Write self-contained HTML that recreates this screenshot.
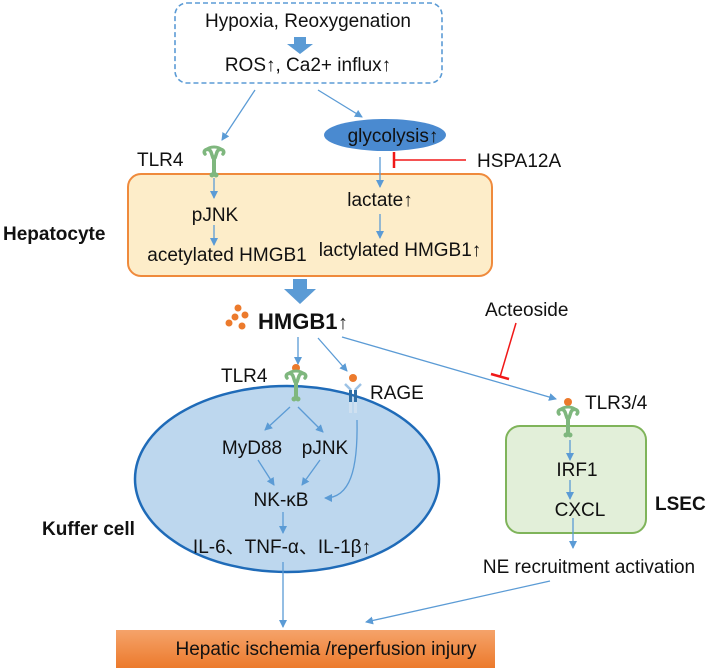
<!DOCTYPE html>
<html><head><meta charset="utf-8"><style>
html,body{margin:0;padding:0;background:#fff;}
svg{display:block;}
text{font-family:"Liberation Sans",Arial,sans-serif;fill:#111;}
</style></head><body>
<svg width="708" height="668" viewBox="0 0 708 668" xmlns="http://www.w3.org/2000/svg">
<defs>
<marker id="ah" markerWidth="8" markerHeight="8" refX="7" refY="4" orient="auto" markerUnits="userSpaceOnUse">
<path d="M0,0 L8,4 L0,8 Z" fill="#5b9bd5"/></marker>
<linearGradient id="og" x1="0" y1="0" x2="0" y2="1"><stop offset="0" stop-color="#f5a36a"/><stop offset="1" stop-color="#ec7a2c"/></linearGradient>
<g id="tlr">
<path d="M-9,-6 C-12,-10 -5,-13 -3,-8 L-1,-2 M9,-6 C12,-10 5,-13 3,-8 L1,-2" stroke="#7fb77e" stroke-width="3.5" fill="none" stroke-linecap="round"/>
<path d="M-8,-10 C-4,-14 4,-14 8,-10" stroke="#7fb77e" stroke-width="3" fill="none"/>
<rect x="-2" y="-4" width="4" height="20" fill="#7fb77e"/>
<circle cx="-2" cy="15" r="2.5" fill="#7fb77e"/><circle cx="2" cy="15" r="2.5" fill="#7fb77e"/>
</g>
</defs>

<rect x="175" y="3" width="267" height="80" rx="12" fill="none" stroke="#5b9bd5" stroke-width="1.6" stroke-dasharray="5,3"/>
<text x="308" y="27" font-size="19" text-anchor="middle">Hypoxia, Reoxygenation</text>
<path d="M294,37 L306,37 L306,44 L313,44 L300,54 L287,44 L294,44 Z" fill="#5b9bd5"/>
<text x="308" y="71" font-size="19" text-anchor="middle">ROS↑,  Ca2+ influx↑</text>

<line x1="255" y1="90" x2="222" y2="140" stroke="#5b9bd5" stroke-width="1.3" marker-end="url(#ah)"/>
<line x1="318" y1="90" x2="362" y2="117" stroke="#5b9bd5" stroke-width="1.3" marker-end="url(#ah)"/>

<ellipse cx="385" cy="135" rx="61" ry="16" fill="#4a8ad0"/>
<text x="393" y="142" font-size="19" text-anchor="middle">glycolysis↑</text>

<text x="137" y="166" font-size="19">TLR4</text>
<text x="477" y="167" font-size="19">HSPA12A</text>
<line x1="466" y1="160" x2="394" y2="160" stroke="#f01818" stroke-width="1.5"/>
<line x1="394" y1="152" x2="394" y2="168" stroke="#f01818" stroke-width="2.5"/>

<rect x="128" y="174" width="364" height="102" rx="13" fill="#fdedc9" stroke="#ef8a3c" stroke-width="2"/>
<use href="#tlr" x="214" y="160"/>
<text x="3" y="240" font-size="19" font-weight="bold">Hepatocyte</text>
<line x1="214" y1="178" x2="214" y2="198" stroke="#5b9bd5" stroke-width="1.3" marker-end="url(#ah)"/>
<text x="215" y="221" font-size="19" text-anchor="middle">pJNK</text>
<line x1="214" y1="225" x2="214" y2="245" stroke="#5b9bd5" stroke-width="1.3" marker-end="url(#ah)"/>
<text x="227" y="261" font-size="19" text-anchor="middle">acetylated HMGB1</text>
<line x1="380" y1="157" x2="380" y2="187" stroke="#5b9bd5" stroke-width="1.3" marker-end="url(#ah)"/>
<text x="380" y="206" font-size="19" text-anchor="middle">lactate↑</text>
<line x1="380" y1="214" x2="380" y2="238" stroke="#5b9bd5" stroke-width="1.3" marker-end="url(#ah)"/>
<text x="400" y="256" font-size="19" text-anchor="middle">lactylated HMGB1↑</text>

<path d="M293,279 L307,279 L307,289 L316,289 L300,304 L284,289 L293,289 Z" fill="#5b9bd5"/>
<g fill="#ec7a2c"><circle cx="238" cy="308" r="3.5"/><circle cx="245" cy="315" r="3.5"/><circle cx="235" cy="317" r="3.5"/><circle cx="229" cy="323" r="3.5"/><circle cx="242" cy="326" r="3.5"/></g>
<text x="258" y="329" font-size="22" font-weight="bold">HMGB1</text>
<text x="338" y="329" font-size="20">↑</text>

<text x="485" y="316" font-size="19">Acteoside</text>
<line x1="516" y1="323" x2="500" y2="377" stroke="#f01818" stroke-width="1.5"/>
<line x1="491" y1="374" x2="509" y2="379" stroke="#f01818" stroke-width="2.5"/>

<line x1="298" y1="337" x2="298" y2="364" stroke="#5b9bd5" stroke-width="1.3" marker-end="url(#ah)"/>
<line x1="318" y1="338" x2="347" y2="371" stroke="#5b9bd5" stroke-width="1.3" marker-end="url(#ah)"/>
<line x1="342" y1="337" x2="556" y2="399" stroke="#5b9bd5" stroke-width="1.3" marker-end="url(#ah)"/>

<ellipse cx="287" cy="479" rx="152" ry="93" fill="#bdd7ee" stroke="#1f6bb8" stroke-width="2.5"/>
<text x="221" y="382" font-size="19">TLR4</text>
<circle cx="296" cy="368" r="4" fill="#ec7a2c"/>
<use href="#tlr" x="296" y="384"/>
<circle cx="353" cy="378" r="4" fill="#ec7a2c"/>
<path d="M345,384 L351,390 M361,384 L355,390" stroke="#9dc3e6" stroke-width="2.5"/>
<rect x="349" y="390" width="3" height="12" fill="#2e6da4"/><rect x="354" y="390" width="3" height="12" fill="#2e6da4"/>
<rect x="349" y="402" width="3" height="11" fill="#cfe0f0"/><rect x="354" y="402" width="3" height="11" fill="#cfe0f0"/>
<text x="370" y="399" font-size="19">RAGE</text>

<line x1="290" y1="407" x2="265" y2="430" stroke="#5b9bd5" stroke-width="1.3" marker-end="url(#ah)"/>
<line x1="298" y1="407" x2="323" y2="432" stroke="#5b9bd5" stroke-width="1.3" marker-end="url(#ah)"/>
<text x="252" y="454" font-size="19" text-anchor="middle">MyD88</text>
<text x="325" y="454" font-size="19" text-anchor="middle">pJNK</text>
<line x1="258" y1="460" x2="274" y2="485" stroke="#5b9bd5" stroke-width="1.3" marker-end="url(#ah)"/>
<line x1="320" y1="460" x2="302" y2="485" stroke="#5b9bd5" stroke-width="1.3" marker-end="url(#ah)"/>
<path d="M357,420 C358,470 350,498 325,498" stroke="#5b9bd5" stroke-width="1.3" fill="none" marker-end="url(#ah)"/>
<text x="281" y="506" font-size="19" text-anchor="middle">NK-κB</text>
<line x1="283" y1="512" x2="283" y2="533" stroke="#5b9bd5" stroke-width="1.3" marker-end="url(#ah)"/>
<text x="282" y="553" font-size="19" text-anchor="middle">IL-6、TNF-α、IL-1β↑</text>
<text x="42" y="535" font-size="19" font-weight="bold">Kuffer cell</text>

<text x="585" y="409" font-size="19">TLR3/4</text>
<circle cx="568" cy="402" r="4" fill="#ec7a2c"/>
<rect x="506" y="426" width="140" height="107" rx="14" fill="#e2efd9" stroke="#7fb45a" stroke-width="2"/>
<use href="#tlr" x="568" y="420"/>
<line x1="570" y1="440" x2="570" y2="460" stroke="#5b9bd5" stroke-width="1.3" marker-end="url(#ah)"/>
<text x="577" y="476" font-size="19" text-anchor="middle">IRF1</text>
<line x1="570" y1="480" x2="570" y2="499" stroke="#5b9bd5" stroke-width="1.3" marker-end="url(#ah)"/>
<text x="580" y="516" font-size="19" text-anchor="middle">CXCL</text>
<text x="655" y="510" font-size="19" font-weight="bold">LSEC</text>
<line x1="573" y1="518" x2="573" y2="548" stroke="#5b9bd5" stroke-width="1.3" marker-end="url(#ah)"/>
<text x="589" y="573" font-size="19" text-anchor="middle">NE recruitment activation</text>

<line x1="550" y1="581" x2="366" y2="622" stroke="#5b9bd5" stroke-width="1.3" marker-end="url(#ah)"/>
<line x1="283" y1="562" x2="283" y2="627" stroke="#5b9bd5" stroke-width="1.3" marker-end="url(#ah)"/>

<rect x="116" y="630" width="379" height="38" fill="url(#og)"/>
<text x="326" y="655" font-size="19" text-anchor="middle">Hepatic ischemia /reperfusion injury</text>
</svg>
</body></html>
